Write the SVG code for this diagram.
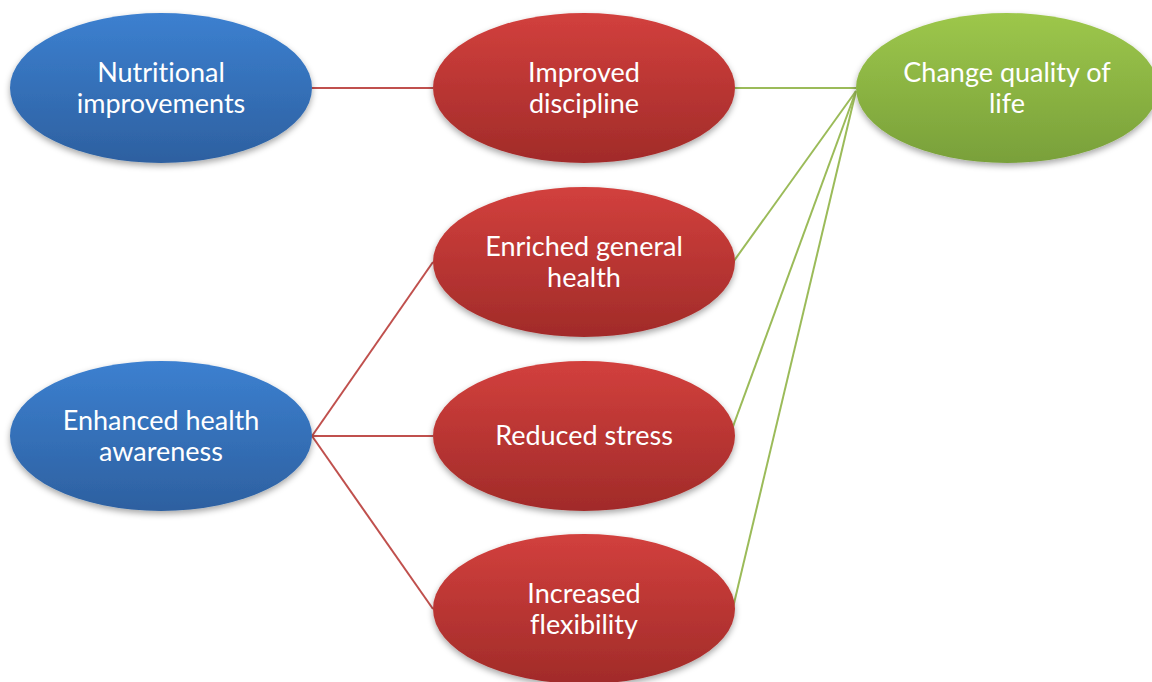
<svg xmlns="http://www.w3.org/2000/svg" width="1152" height="682" viewBox="0 0 1152 682">
<defs>
<linearGradient id="gb" x1="0" y1="0" x2="0" y2="1"><stop offset="0" stop-color="#3c80d0"/><stop offset="1" stop-color="#2d60a0"/></linearGradient>
<linearGradient id="gr" x1="0" y1="0" x2="0" y2="1"><stop offset="0" stop-color="#d2403d"/><stop offset="1" stop-color="#a12b29"/></linearGradient>
<linearGradient id="gg" x1="0" y1="0" x2="0" y2="1"><stop offset="0" stop-color="#9dc74b"/><stop offset="1" stop-color="#79a03a"/></linearGradient>
<filter id="sh" x="-10%" y="-10%" width="120%" height="130%"><feDropShadow dx="0" dy="3" stdDeviation="3" flood-color="#000" flood-opacity="0.35"/></filter>
<style>
text{font-family:Lato,"Open Sans","Liberation Sans",sans-serif;font-size:27px;fill:#fff;text-anchor:middle;font-variant-ligatures:none;font-feature-settings:"liga" 0,"dlig" 0}
.r{stroke:#c0504d;stroke-width:2;fill:none}
.g{stroke:#9bbb59;stroke-width:2;fill:none}
</style>
</defs>
<g id="connectors">
<line class="r" x1="312" y1="88" x2="433" y2="88"/>
<line class="g" x1="735" y1="88" x2="856" y2="88"/>
<line class="g" x1="856" y1="91" x2="731" y2="265"/>
<line class="g" x1="856" y1="91" x2="731" y2="432"/>
<line class="g" x1="856" y1="91" x2="731" y2="616"/>
<line class="r" x1="312" y1="436" x2="433" y2="262"/>
<line class="r" x1="312" y1="436" x2="433" y2="436"/>
<line class="r" x1="312" y1="436" x2="433" y2="609"/>
</g>
<g id="n1"><ellipse cx="161" cy="88" rx="151" ry="75" fill="url(#gb)" filter="url(#sh)"/><text x="161" y="82">Nutritional</text><text x="161" y="113">improvements</text></g>
<g id="n2"><ellipse cx="584" cy="88" rx="151" ry="75" fill="url(#gr)" filter="url(#sh)"/><text x="584" y="82">Improved</text><text x="584" y="113">discipline</text></g>
<g id="n3"><ellipse cx="1007" cy="88" rx="151" ry="75" fill="url(#gg)" filter="url(#sh)"/><text x="1007" y="82">Change quality of</text><text x="1007" y="113">life</text></g>
<g id="n4"><ellipse cx="584" cy="262" rx="151" ry="75" fill="url(#gr)" filter="url(#sh)"/><text x="584" y="256">Enriched general</text><text x="584" y="287">health</text></g>
<g id="n5"><ellipse cx="161" cy="436" rx="151" ry="75" fill="url(#gb)" filter="url(#sh)"/><text x="161" y="430">Enhanced health</text><text x="161" y="461">awareness</text></g>
<g id="n6"><ellipse cx="584" cy="436" rx="151" ry="75" fill="url(#gr)" filter="url(#sh)"/><text x="584" y="445">Reduced stress</text></g>
<g id="n7"><ellipse cx="584" cy="609" rx="151" ry="75" fill="url(#gr)" filter="url(#sh)"/><text x="584" y="603">Increased</text><text x="584" y="634">flexibility</text></g>
</svg>
